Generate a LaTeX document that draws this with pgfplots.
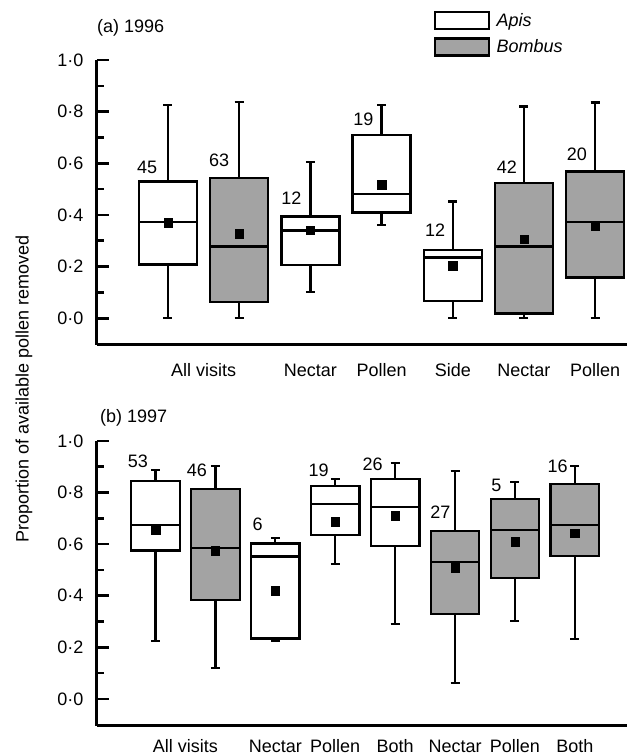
\documentclass[border=0pt]{standalone}
\usepackage{fontspec}
\setmainfont{Liberation Sans}
\usepackage{pgfplots}
\pgfplotsset{compat=1.18}
\usepgfplotslibrary{statistics}
\definecolor{bombus}{gray}{0.64}

\newcommand{\lbl}{\fontsize{18}{21}\selectfont}
% draw position, lower whisker, lower quartile, median, upper quartile, upper whisker, fill
\newcommand{\bx}[7]{\addplot[boxplot prepared={draw position=#1, lower whisker=#2,
  lower quartile=#3, median=#4, upper quartile=#5, upper whisker=#6},
  draw=black, fill=#7, line width=2.3pt, forget plot] coordinates {};}

\pgfplotsset{
  panel/.style={
    scale only axis, anchor=north west, width=530pt,
    axis x line*=bottom, axis y line*=left,
    axis line style={line width=3pt},
    ymax=1.0,
    ytick={0,0.2,0.4,0.6,0.8,1.0},
    yticklabels={0·0,0·2,0·4,0·6,0·8,1·0},
    minor ytick={0.1,0.3,0.5,0.7,0.9},
    tick align=inside,
    major tick length=12pt, minor tick length=7pt,
    tick style={line width=2.6pt, black},
    xtick style={draw=none},
    ticklabel style={font=\lbl},
    yticklabel style={xshift=-10pt},
    xticklabel style={anchor=base, inner sep=0pt},
    boxplot/draw direction=y,
    clip=false,
  }
}

\begin{document}
\begin{tikzpicture}
\path[use as bounding box] (0,0) rectangle (627pt,756pt);

% (a) 1996
\begin{axis}[panel, at={(97pt,696pt)}, height=285pt,
  ymin=-0.1035, xmin=0.003, xmax=7.447,
  xtick={1.5,3,4,5,6,7},
  xticklabels={All visits,Nectar,Pollen,Side,Nectar,Pollen},
  xticklabel style={yshift=-32pt},
  boxplot/box extend=0.815, boxplot/whisker extend=0.126,
  legend style={at={(rel axis cs:0.6358,1.172)}, anchor=north west,
    draw=none, fill=none, inner sep=0pt, row sep=7pt,
    font=\itshape\lbl},
  legend cell align=left,
  legend image code/.code={\draw[#1, line width=2.3pt] (0pt,-8.5pt) rectangle (54pt,8.5pt);
    \path (59pt,0pt);},
]
\addlegendimage{draw=black, fill=white}
\addlegendentry{Apis}
\addlegendimage{draw=black, fill=bombus}
\addlegendentry{Bombus}

\bx{1}{0.0}{0.208}{0.373}{0.530}{0.826}{white}
\bx{2}{0.0}{0.062}{0.278}{0.544}{0.838}{bombus}
\bx{3}{0.101}{0.207}{0.340}{0.394}{0.604}{white}
\bx{4}{0.362}{0.410}{0.481}{0.710}{0.826}{white}
\bx{5}{0.0}{0.067}{0.235}{0.265}{0.452}{white}
\bx{6}{0.0}{0.019}{0.278}{0.523}{0.820}{bombus}
\bx{7}{0.0}{0.158}{0.372}{0.568}{0.836}{bombus}

\addplot[only marks, mark=square*, mark size=4.2pt, black, forget plot] coordinates {
  (1,0.370) (2,0.328) (3,0.342) (4,0.517) (5,0.203) (6,0.306) (7,0.358)};

\begin{scope}[every node/.style={anchor=south west, inner sep=0pt, font=\lbl}]
\node at (axis cs:0.565,0.558) {45};
\node at (axis cs:1.576,0.586) {63};
\node at (axis cs:2.590,0.439) {12};
\node at (axis cs:3.600,0.744) {19};
\node at (axis cs:4.610,0.314) {12};
\node at (axis cs:5.617,0.561) {42};
\node at (axis cs:6.600,0.610) {20};
\end{scope}
\end{axis}

% (b) 1997
\begin{axis}[panel, at={(97pt,315pt)}, height=284.7pt,
  ymin=-0.1035, xmin=0.023, xmax=8.87,
  xtick={1.5,3,4,5,6,7,8},
  xticklabels={All visits,Nectar,Pollen,Both,Nectar,Pollen,Both},
  xticklabel style={yshift=-27pt},
  boxplot/box extend=0.81, boxplot/whisker extend=0.15,
]
\bx{1}{0.225}{0.575}{0.674}{0.845}{0.888}{white}
\bx{2}{0.121}{0.384}{0.584}{0.814}{0.903}{bombus}
\bx{3}{0.225}{0.235}{0.552}{0.603}{0.623}{white}
\bx{4}{0.523}{0.636}{0.756}{0.826}{0.853}{white}
\bx{5}{0.291}{0.594}{0.743}{0.853}{0.916}{white}
\bx{6}{0.061}{0.329}{0.532}{0.652}{0.885}{bombus}
\bx{7}{0.302}{0.470}{0.655}{0.775}{0.842}{bombus}
\bx{8}{0.233}{0.554}{0.674}{0.832}{0.903}{bombus}

\addplot[only marks, mark=square*, mark size=4.2pt, black, forget plot] coordinates {
  (1,0.655) (2,0.575) (3,0.420) (4,0.687) (5,0.711) (6,0.509) (7,0.610) (8,0.642)};

\begin{scope}[every node/.style={anchor=south west, inner sep=0pt, font=\lbl}]
\node at (axis cs:0.536,0.894) {53};
\node at (axis cs:1.521,0.862) {46};
\node at (axis cs:2.616,0.652) {6};
\node at (axis cs:3.551,0.859) {19};
\node at (axis cs:4.452,0.885) {26};
\node at (axis cs:5.583,0.697) {27};
\node at (axis cs:6.601,0.803) {5};
\node at (axis cs:7.541,0.875) {16};
\end{scope}
\end{axis}

\node[anchor=base west, inner sep=0pt, font=\lbl] at (97pt,723pt) {(a) 1996};
\node[anchor=base west, inner sep=0pt, font=\lbl] at (100pt,333.3pt) {(b) 1997};
\node[rotate=90, inner sep=0pt, font=\fontsize{18}{20}\selectfont] at (24pt,367pt)
  {Proportion of available pollen removed};
\end{tikzpicture}
\end{document}
